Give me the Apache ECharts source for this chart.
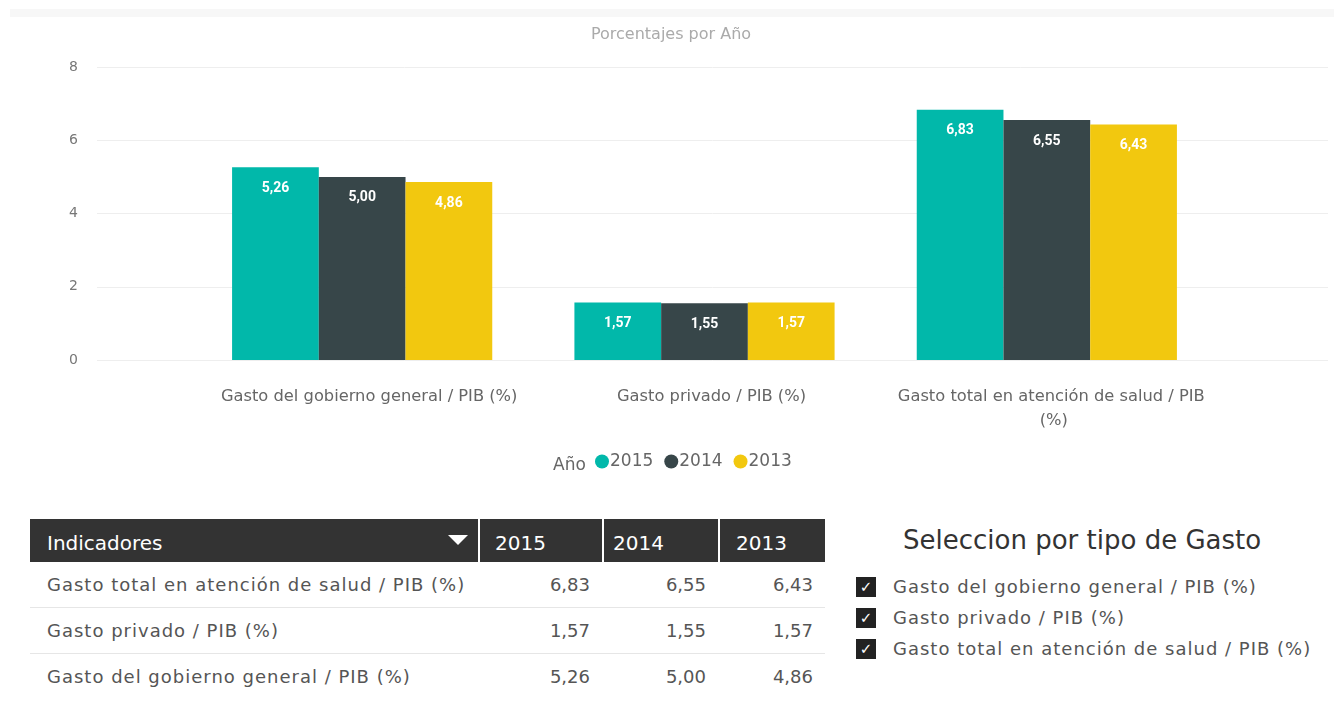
<!DOCTYPE html>
<html>
<head>
<meta charset="utf-8">
<script src="https://cdn.jsdelivr.net/npm/echarts@6/dist/echarts.min.js"></script>
<style>
  body { margin: 0; background: #fff; font-family: "DejaVu Sans", sans-serif; }
  #topband { position: absolute; left: 10px; top: 9px; width: 1324px; height: 8px; background: #f7f7f7; }
  #main { position: absolute; left: 0; top: 0; width: 1342px; height: 500px; }
  #tbl { position: absolute; left: 30px; top: 519px; width: 795px; font-size: 18px; color: #555; }
  .row { display: flex; box-sizing: border-box; }
  .hdr { background: #333; color: #fff; height: 43px; line-height: 48px; font-size: 20px; }
  .hdr .cell { border-left: 2px solid #fff; }
  .hdr .cell:first-child { border-left: none; position: relative; }
  .body { height: 46px; line-height: 46px; border-bottom: 1px solid #e6e6e6; }
  .body:last-child { border-bottom: none; }
  .cell { box-sizing: border-box; white-space: nowrap; overflow: hidden; }
  .name { letter-spacing: 1px; }
  .num { text-align: right; padding-right: 12px; }
  .tri { position: absolute; right: 10px; top: 16px; width: 0; height: 0;
         border-left: 10px solid transparent; border-right: 10px solid transparent; border-top: 10px solid #fff; }
  #slicer { position: absolute; left: 856px; top: 518px; color: #555; font-size: 18px; }
  #slicer .ttl { font-size: 26px; color: #333; margin-left: 47px; height: 53px; line-height: 44px; }
  #slicer .item { height: 31px; line-height: 31px; display: flex; align-items: center; letter-spacing: 1px; }
  #slicer .box { width: 20px; height: 20px; background: #222; color: #fff; font-size: 15px; line-height: 20px;
                 text-align: center; margin-right: 17px; font-weight: bold; letter-spacing: 0; }
</style>
</head>
<body>
<div id="topband"></div>
<div id="main"></div>
<div id="tbl"></div>
<div id="slicer"></div>
<script>
const categories = ['Gasto del gobierno general / PIB (%)', 'Gasto privado / PIB (%)', 'Gasto total en atención de salud / PIB (%)'];
const years = ['2015', '2014', '2013'];
const v2015 = [5.26, 1.57, 6.83];
const v2014 = [5.00, 1.55, 6.55];
const v2013 = [4.86, 1.57, 6.43];
const colors = ['#01B8AA', '#374649', '#F2C80F'];
const tableOrder = [2, 1, 0];

const fmt = v => v.toFixed(2).replace('.', ',');
const values = [v2015, v2014, v2013];

const chart = echarts.init(document.getElementById('main'));

const option = {
  animation: false,
  textStyle: { fontFamily: 'DejaVu Sans' },
  title: [
    { text: 'Porcentajes por Año', left: 'center', top: 22,
      textStyle: { color: '#aaa', fontSize: 16, fontWeight: 'normal' } },
    { text: 'Año', left: 548, top: 452,
      textStyle: { color: '#666', fontSize: 17, fontWeight: 'normal' } }
  ],
  legend: {
    data: years, left: 595, top: 453, icon: 'circle', itemWidth: 14, itemHeight: 14, itemGap: 11, padding: 0,
    textStyle: { color: '#666', fontSize: 17, padding: [0, 0, 0, -4] }
  },
  grid: [
    { left: 97, right: 14, top: 67, bottom: 140 },
    { left: 191, right: 124, top: 67, bottom: 140 }
  ],
  xAxis: [
    { gridIndex: 0, type: 'category', data: categories, show: false },
    { gridIndex: 1, type: 'category', data: categories,
      axisLine: { show: false }, axisTick: { show: false },
      axisLabel: { color: '#666', fontSize: 16.3, margin: 25, width: 330, padding: [0, 0, 0, 14],
                   overflow: 'break', lineHeight: 24, interval: 0 } }
  ],
  yAxis: [
    { gridIndex: 0, type: 'value', min: 0, max: 8, interval: 2,
      axisLine: { show: false }, axisTick: { show: false },
      axisLabel: { color: '#777', fontSize: 14, margin: 19 },
      splitLine: { lineStyle: { color: '#eeeeee' } } },
    { gridIndex: 1, type: 'value', min: 0, max: 8, interval: 2, show: false, splitLine: { show: false } }
  ],
  series: years.map((y, i) => ({
    name: y, type: 'bar', xAxisIndex: 1, yAxisIndex: 1,
    data: values[i], barGap: 0, barCategoryGap: '24%',
    itemStyle: { color: colors[i] },
    label: { show: true, position: 'insideTop', distance: 14, color: '#fff', fontSize: 14, fontWeight: 'bold',
             fontFamily: 'Roboto', formatter: p => fmt(p.value) }
  }))
};
chart.setOption(option);

// table
const colW = [448, 124, 116, 107];
const hdrPad = [17, 15, 9, 16];
let html = '<div class="row hdr">' + ['Indicadores'].concat(years).map((h, i) =>
  `<div class="cell" style="width:${colW[i]}px;padding-left:${hdrPad[i]}px">${h}${i === 0 ? '<span class="tri"></span>' : ''}</div>`).join('') + '</div>';
tableOrder.forEach(c => {
  html += `<div class="row body"><div class="cell name" style="width:${colW[0]}px;padding-left:17px">${categories[c]}</div>` +
    values.map((v, i) => `<div class="cell num" style="width:${colW[i + 1]}px">${fmt(v[c])}</div>`).join('') + '</div>';
});
document.getElementById('tbl').innerHTML = html;

// slicer
document.getElementById('slicer').innerHTML = '<div class="ttl">Seleccion por tipo de Gasto</div>' +
  categories.map(c => `<div class="item"><span class="box">✓</span>${c}</div>`).join('');
</script>
</body>
</html>
